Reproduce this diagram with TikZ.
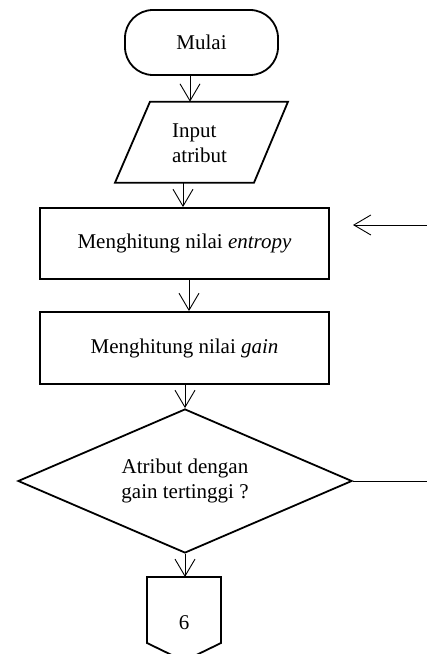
\documentclass[tikz,border=0pt]{standalone}
\usepackage{fontspec}
\setmainfont{Liberation Serif}
\usetikzlibrary{arrows.meta,shapes.geometric}
\begin{document}
\begin{tikzpicture}[x=1pt,y=1pt,
  shp/.style={draw,line width=1.8pt,inner sep=0pt},
  lbl/.style={font=\fontsize{21}{25}\selectfont},
  arr/.style={line width=0.9pt,-{Straight Barb[length=17pt,width=20pt,line width=0.9pt]}},
  plain/.style={line width=0.9pt}]
\useasboundingbox (0,0) rectangle (427,654);
\clip (0,0) rectangle (427,654);

% shapes
\node[shp, rounded corners=28pt, minimum width=153pt, minimum height=65pt, lbl] (mulai) at (201.5,611.5) {Mulai};
\draw[shp] (115,471.3) -- (150,552.3) -- (288,552.3) -- (254,471.3) -- cycle;
\node[lbl, align=left] (io) at (199.5,510.5) {Input\\atribut};
\node[shp, minimum width=289pt, minimum height=71pt, lbl] (ent) at (184.5,410.5) {Menghitung nilai \textit{entropy}};
\node[shp, minimum width=289pt, minimum height=72pt, lbl] (gain) at (184.5,306) {Menghitung nilai \textit{gain}};
\node[shp, diamond, aspect=2.32, minimum width=334pt, minimum height=144pt, lbl, align=center] (dec) at (185,173) {Atribut dengan\\gain tertinggi ?};
\draw[shp] (147,77) -- (221,77) -- (221,11) -- (184,-7) -- (147,11) -- cycle;
\node[lbl] (six) at (184,31) {6};

% connector points
\coordinate (iotop) at (190,552.3);
\coordinate (iobot) at (183,471.3);
\coordinate (xc) at (189,0);
\coordinate (offtop) at (186,77);
\coordinate (loopin) at (427,429);
\coordinate (looptip) at (353,429);
\coordinate (loopout) at (427,173);

% connectors
\draw[arr] (mulai.south -| iotop) -- (iotop);
\draw[arr] (iobot) -- (iobot |- ent.north);
\draw[arr] (ent.south -| xc) -- (gain.north -| xc);
\draw[arr] (gain.south -| dec.north) -- (dec.north);
\draw[arr] (dec.south) -- (dec.south |- offtop);
\draw[arr] (loopin) -- (looptip);
\draw[plain] (dec.east) -- (loopout);
\end{tikzpicture}
\end{document}
